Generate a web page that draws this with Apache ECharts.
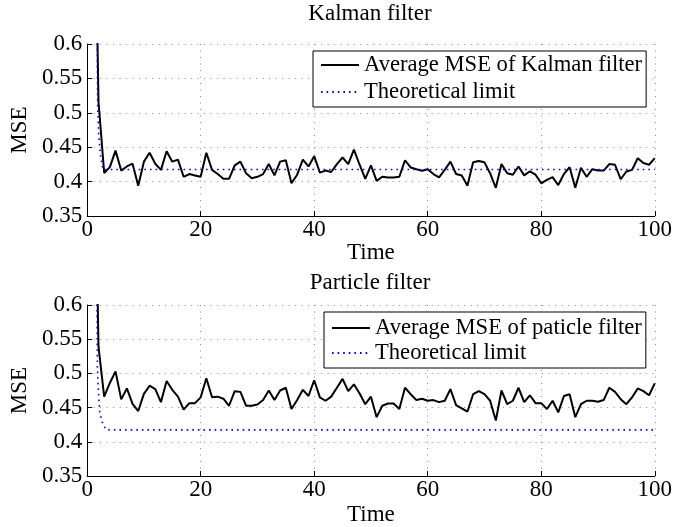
<!DOCTYPE html>
<html>
<head>
<meta charset="utf-8">
<script src="https://cdn.jsdelivr.net/npm/echarts@6/dist/echarts.min.js"></script>
<style>html,body{margin:0;padding:0;background:#fff}#c{width:675px;height:527px}</style>
</head>
<body>
<div id="c"></div>
<script>
// ---- data ----
const kalmanMSE = [1.0,0.516,0.4126,0.421,0.445,0.416,0.422,0.426,0.394,0.429,
0.442,0.426,0.417,0.444,0.429,0.432,0.407,0.411,0.409,0.407,
0.442,0.417,0.411,0.404,0.404,0.4235,0.429,0.412,0.405,0.407,
0.411,0.4255,0.409,0.429,0.431,0.3975,0.410,0.432,0.422,0.437,
0.413,0.416,0.414,0.4255,0.435,0.4255,0.4466,0.4245,0.404,0.4235,
0.401,0.407,0.406,0.406,0.407,0.431,0.4206,0.418,0.4157,0.418,
0.411,0.406,0.417,0.429,0.411,0.409,0.394,0.428,0.430,0.428,
0.412,0.391,0.4255,0.412,0.410,0.422,0.409,0.415,0.410,0.3975,
0.4025,0.4064,0.395,0.411,0.421,0.391,0.420,0.407,0.418,0.416,
0.416,0.4255,0.4245,0.4034,0.4147,0.417,0.434,0.427,0.4245,0.434];
const particleMSE = [1.0,0.539,0.466,0.486,0.503,0.462,0.478,0.4555,0.445,0.470,
0.482,0.477,0.458,0.489,0.476,0.466,0.447,0.4565,0.4565,0.465,
0.493,0.465,0.466,0.463,0.4527,0.474,0.473,0.4527,0.4527,0.4546,
0.461,0.475,0.461,0.475,0.479,0.448,0.461,0.476,0.467,0.490,
0.465,0.460,0.466,0.479,0.492,0.474,0.484,0.4705,0.455,0.466,
0.436,0.4527,0.456,0.456,0.448,0.479,0.4696,0.461,0.463,0.460,
0.461,0.458,0.460,0.477,0.4536,0.449,0.444,0.4696,0.474,0.4696,
0.460,0.431,0.475,0.455,0.460,0.479,0.458,0.468,0.4565,0.4565,
0.448,0.460,0.443,0.467,0.4696,0.436,0.455,0.460,0.460,0.4585,
0.461,0.479,0.473,0.4623,0.455,0.465,0.478,0.474,0.468,0.4855];
const kalmanTheoryX = [1.75,1.85,2.05,2.4,2.8,100];
const kalmanTheoryY = [0.65,0.51,0.465,0.435,0.4175,0.4175];
const particleTheoryX = [1.7,1.8,1.93,2.22,2.69,3.27,4,100];
const particleTheoryY = [0.65,0.51,0.481,0.443,0.428,0.418,0.4174,0.4174];
const yTicks = ['0.35','0.4','0.45','0.5','0.55','0.6'];
const xTicks = ['0','20','40','60','80','100'];
const titles = ['Kalman filter','Particle filter'];
const legendNames = [['Average MSE of Kalman filter','Theoretical limit'],['Average MSE of paticle filter','Theoretical limit']];

// ---- build ----
const FONT = 'Liberation Serif';
const toPairs = (ys) => ys.map((v,i)=>[i+1, v]);
const zip = (xs, ys) => xs.map((x,i)=>[x, ys[i]]);
const gridTops = [44, 305];
const H = 172;

function xAxis(i, gap){
  return {
    gridIndex:i, type:'value', min:0, max:100, interval:20,
    name:'Time', nameLocation:'middle', nameGap:gap,
    nameTextStyle:{fontFamily:FONT,fontSize:23,color:'#000'},
    axisLine:{show:true,lineStyle:{color:'#000',width:1}},
    axisTick:{show:true,inside:true,length:5,lineStyle:{color:'#000'}},
    axisLabel:{fontFamily:FONT,fontSize:23,color:'#000',margin:2,
      formatter:(v)=>xTicks[Math.round(v/20)]},
    splitLine:{show:true,lineStyle:{color:'#888',type:[1,5.5],width:1}}
  };
}
function yAxis(i){
  return {
    gridIndex:i, type:'value', min:0.35, max:0.6, interval:0.05,
    name:'MSE', nameLocation:'middle', nameGap:53,
    nameTextStyle:{fontFamily:FONT,fontSize:23,color:'#000'},
    axisLine:{show:true,lineStyle:{color:'#000',width:1}},
    axisTick:{show:true,inside:true,length:5,lineStyle:{color:'#000'}},
    axisLabel:{fontFamily:FONT,fontSize:23,color:'#000',margin:5,
      formatter:(v)=>yTicks[Math.round((v-0.35)/0.05)]},
    splitLine:{show:true,lineStyle:{color:'#888',type:[1,5.5],width:1}}
  };
}
const mseStyle = {color:'#000',width:2};
const thStyle = {color:'#0000ff',width:1.6,type:[1.6,4]};
const legendCommon = {
  orient:'vertical', itemWidth:38, itemHeight:20, borderColor:'#000', borderWidth:1,
  backgroundColor:'#fff', selectedMode:false,
  itemStyle:{opacity:0, borderWidth:0},
  textStyle:{fontFamily:FONT,fontSize:22.6,color:'#000',lineHeight:24}
};

const option = {
  animation:false,
  backgroundColor:'#fff',
  title: titles.map((t,i)=>({
    text:t, left:370, textAlign:'center', top: i===0 ? 2 : 271, padding:0,
    textStyle:{fontFamily:FONT,fontSize:23,fontWeight:'normal',color:'#000'}
  })),
  grid: gridTops.map(t=>({left:85, right:20, top:t, height:H, containLabel:false})),
  xAxis:[xAxis(0,16), xAxis(1,27)],
  yAxis:[yAxis(0), yAxis(1)],
  legend:[
    Object.assign({data:legendNames[0], left:313, top:51, itemGap:3, padding:[2,4,3,7]}, legendCommon),
    Object.assign({data:legendNames[1], left:324, top:312, itemGap:1, padding:[4,4,3,7]}, legendCommon)
  ],
  series:[
    {name:legendNames[0][0], type:'line', xAxisIndex:0, yAxisIndex:0, data:toPairs(kalmanMSE),
     symbol:'none', lineStyle:mseStyle, itemStyle:{color:'#000'}, clip:true, z:3},
    {name:'Theoretical limit', type:'line', xAxisIndex:0, yAxisIndex:0, data:zip(kalmanTheoryX,kalmanTheoryY),
     symbol:'none', lineStyle:thStyle, itemStyle:{color:'#0000ff'}, clip:true, z:4},
    {name:legendNames[1][0], type:'line', xAxisIndex:1, yAxisIndex:1, data:toPairs(particleMSE),
     symbol:'none', lineStyle:mseStyle, itemStyle:{color:'#000'}, clip:true, z:3},
    {name:'Theoretical limit', type:'line', xAxisIndex:1, yAxisIndex:1, data:zip(particleTheoryX,particleTheoryY),
     symbol:'none', lineStyle:thStyle, itemStyle:{color:'#0000ff'}, clip:true, z:4}
  ]
};
const chart = echarts.init(document.getElementById('c'), null, {renderer:'canvas'});
chart.setOption(option);
</script>
</body>
</html>
